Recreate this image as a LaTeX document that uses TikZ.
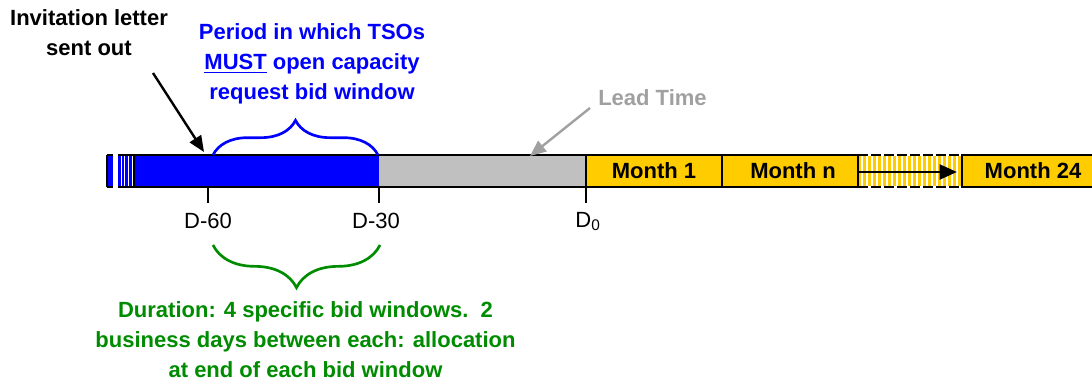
\documentclass[tikz,border=0pt]{standalone}
\usepackage{fontspec}
\setmainfont{Liberation Sans}
\usetikzlibrary{arrows.meta}
\usetikzlibrary{decorations.pathreplacing}
\definecolor{monthyellow}{RGB}{255,204,0}
\definecolor{leadgray}{RGB}{192,192,192}
\definecolor{notegreen}{RGB}{0,140,0}
\definecolor{notegray}{RGB}{160,160,160}

\begin{document}
\begin{tikzpicture}[x=0.75pt,y=-0.75pt,
  txt/.style={font=\fontsize{16.5}{22.5}\selectfont\bfseries, inner sep=0, align=center},
  tick/.style={font=\fontsize{16.5}{22.5}\selectfont, inner sep=0, anchor=base},
  bar/.style={draw=black, line width=1.8pt},
  ptr/.style={line width=1.8pt, -{Triangle[length=12pt,width=10pt]}},
  brc/.style={line width=2pt, decorate, decoration={brace, amplitude=#1}}]
\useasboundingbox (0,0) rectangle (1092,383);

% the time bar
\fill[blue] (134,155) rectangle (379,187);
\fill[leadgray] (379,155) rectangle (586,187);
\fill[monthyellow] (586,155) rectangle (858,187);
\fill[monthyellow] (962,155) rectangle (1110,187);
\foreach \s in {858,863,...,958} \fill[monthyellow] (\s,156) rectangle ++(3.2,30);
\foreach \s in {107,110.2,118,121.6,125.2,128.8} \fill[blue] (\s,156) rectangle ++(2.8,30);
\draw[bar] (134,155) -- (858,155) (134,187) -- (858,187);
\draw[bar] (134,155) -- (134,187);
\foreach \x in {586,722,858} \draw[bar] (\x,155) -- (\x,187);
\draw[bar] (962,155) rectangle (1110,187);
\draw[bar, dash pattern=on 7.5pt off 2.25pt] (858,155) -- (962,155) (858,187) -- (962,187);
\draw[bar] (107,155) -- (113,155) (118,155) -- (134,155);
\draw[bar] (107,187) -- (113,187) (118,187) -- (134,187);
\draw[line width=1pt] (107,155) -- (107,187);

% months
\node[txt] (m1) at (654,171) {Month 1};
\node[txt] (mn) at (793,171) {Month n};
\node[txt] (m24) at (1033,171) {Month 24};
\coordinate (hs) at (858,172);
\coordinate (he) at (957,172);
\draw[line width=2.2pt, -{Triangle[length=13pt,width=11pt]}] (hs) -- (he);

% ticks
\foreach \x/\n in {208/a,379/b,586/c} {
  \coordinate (t\n) at (\x,187);
  \draw[line width=1.8pt] (t\n) -- ++(0,16);
}
\node[tick] (d60) at (208,228) {D-60};
\node[tick] (d30) at (376,228) {D-30};
\node[tick] (d0) at (588,227) {D\textsubscript{0}};

% labels above
\node[txt] (letter) at (89,33) {Invitation letter\\sent out};
\node[txt, text=blue] (tsos) at (312,64) {Period in which TSOs\\\underline{MUST} open capacity\\request bid window};
\node[txt, text=notegray, anchor=base west] (lead) at (598,105) {Lead Time};
\coordinate (sentfrom) at (153,73);
\coordinate (sent) at (204,152);
\draw[ptr] (sentfrom) -- (sent);
\coordinate (leadfrom) at (590,108);
\coordinate (leadto) at (530,156);
\draw[ptr, notegray] (leadfrom) -- (leadto);
\draw[brc=26pt, blue] (213,155) -- (378,155);

% label below
\draw[brc=32pt, notegreen] (380,245) -- (213,245);
\node[txt, text=notegreen] (dur) at (305.5,340) {Duration: 4 specific bid windows.\ \ 2\\business days between each: allocation\\at end of each bid window};
\end{tikzpicture}
\end{document}
